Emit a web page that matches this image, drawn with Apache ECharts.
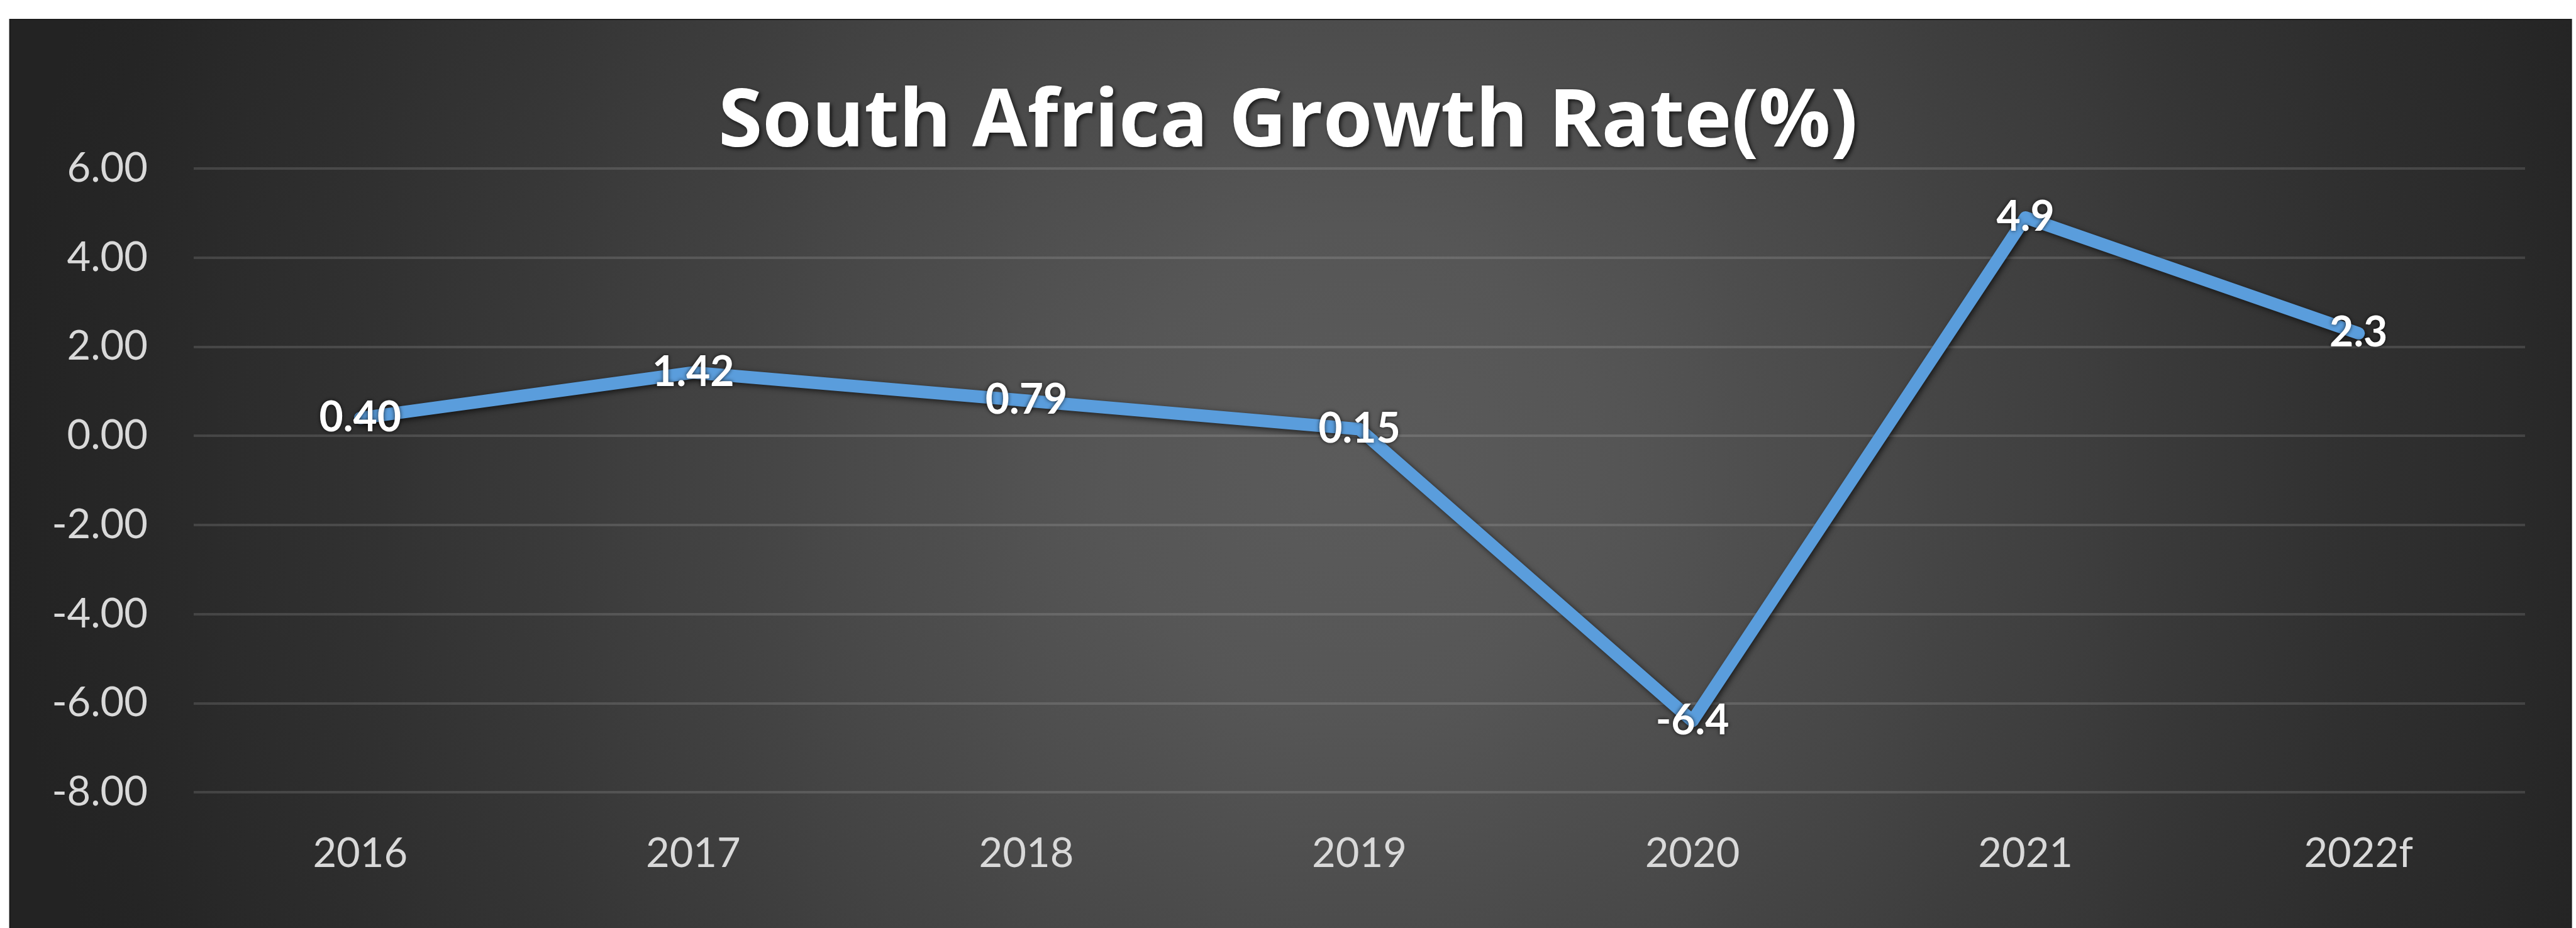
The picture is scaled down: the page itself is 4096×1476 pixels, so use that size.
<!DOCTYPE html>
<html>
<head>
<meta charset="utf-8">
<script src="https://cdn.jsdelivr.net/npm/echarts@6/dist/echarts.min.js"></script>
<style>
html,body{margin:0;padding:0;background:#ffffff;}
#chart{width:4096px;height:1476px;}
</style>
</head>
<body>
<div id="chart"></div>
<script>
var titleText = 'South Africa Growth Rate(%)';
var years = ['2016', '2017', '2018', '2019', '2020', '2021', '2022f'];
var growth = [0.40, 1.42, 0.79, 0.15, -6.4, 4.9, 2.3];
var growthLabels = ['0.40', '1.42', '0.79', '0.15', '-6.4', '4.9', '2.3'];
var yMin = -8, yMax = 6, yStep = 2;

var chart = echarts.init(document.getElementById('chart'), null, {renderer: 'canvas'});
var option = {
  backgroundColor: '#ffffff',
  animation: false,
  graphic: [{
    type: 'rect',
    z: -100,
    silent: true,
    shape: {x: 15.6, y: 31, width: 4073, height: 1450},
    style: {
      fill: {
        type: 'radial', global: true, x: 2150, y: 744, r: 2150,
        colorStops: [
          {offset: 0, color: '#5b5b5b'},
          {offset: 0.18, color: '#565656'},
          {offset: 0.35, color: '#4b4b4b'},
          {offset: 0.70, color: '#333333'},
          {offset: 0.95, color: '#252525'},
          {offset: 1, color: '#232323'}
        ]
      },
      stroke: '#1c1c1c',
      lineWidth: 2
    }
  }],
  title: {
    text: titleText,
    left: 'center',
    top: 128,
    textStyle: {
      fontFamily: 'Open Sans',
      fontWeight: 'bold',
      fontSize: 127,
      color: '#ffffff',
      textShadowColor: 'rgba(0,0,0,0.7)',
      textShadowBlur: 6,
      textShadowOffsetX: 3,
      textShadowOffsetY: 3
    }
  },
  grid: {left: 308, right: 81, top: 268, bottom: 216},
  xAxis: {
    type: 'category',
    data: years,
    boundaryGap: true,
    axisLine: {show: false},
    axisTick: {show: false},
    splitLine: {show: false},
    axisLabel: {
      color: '#d9d9d9',
      fontFamily: 'Lato',
      fontSize: 65,
      margin: 66
    }
  },
  yAxis: {
    type: 'value',
    min: yMin,
    max: yMax,
    interval: yStep,
    axisLine: {show: false},
    axisTick: {show: false},
    splitLine: {show: true, lineStyle: {color: 'rgba(255,255,255,0.13)', width: 4}},
    axisLabel: {
      color: '#d9d9d9',
      fontFamily: 'Lato',
      fontSize: 65,
      margin: 73,
      formatter: function (v) { return v.toFixed(2); }
    }
  },
  series: [{
    type: 'line',
    data: growth,
    symbol: 'circle',
    symbolSize: 1,
    showSymbol: true,
    itemStyle: {color: '#5a9ddc'},
    lineStyle: {
      color: '#5a9ddc',
      width: 20,
      cap: 'round',
      join: 'round',
      shadowColor: 'rgba(0,0,0,0.65)',
      shadowBlur: 10,
      shadowOffsetX: 3,
      shadowOffsetY: 3
    },
    label: {
      show: true,
      position: 'inside',
      color: '#ffffff',
      fontFamily: 'Lato',
      fontWeight: 'bold',
      fontSize: 66,
      textShadowColor: 'rgba(0,0,0,0.75)',
      textShadowBlur: 6,
      formatter: function (p) { return growthLabels[p.dataIndex]; }
    },
    emphasis: {disabled: true}
  }]
};
chart.setOption(option);
</script>
</body>
</html>
